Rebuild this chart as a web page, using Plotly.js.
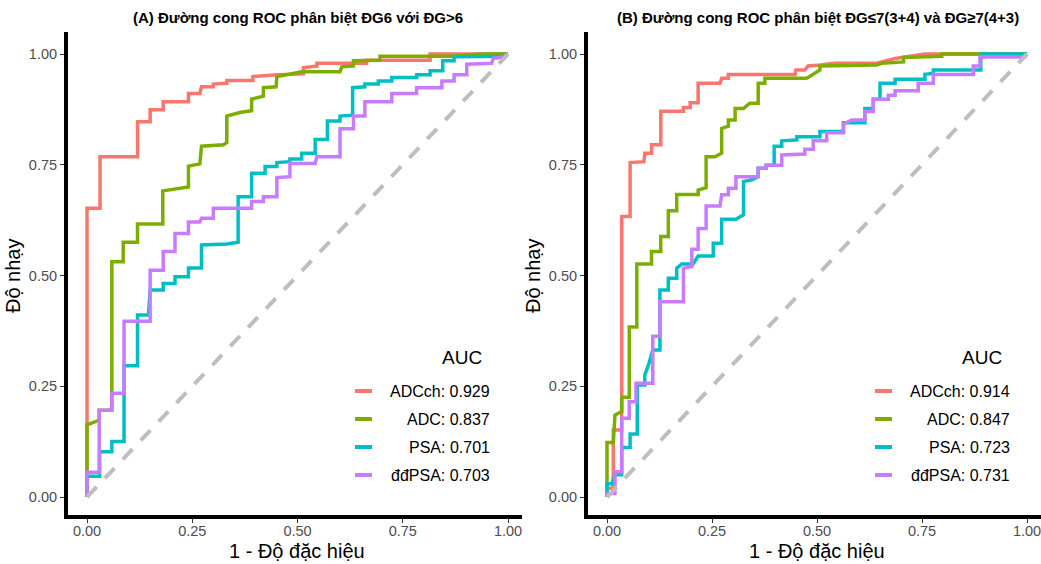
<!DOCTYPE html>
<html>
<head>
<meta charset="utf-8">
<script src="https://cdn.plot.ly/plotly-3.0.1.min.js"></script>
<style>html,body{margin:0;padding:0;background:#fff;}#chart{width:1041px;height:564px;}</style>
</head>
<body>
<div id="chart"></div>
<script>
// ---- data ----
const seriesNames = ['ADCch', 'ADC', 'PSA', 'đđPSA'];
const aucA = [0.929, 0.837, 0.701, 0.703];
const aucB = [0.914, 0.847, 0.723, 0.731];
const tickVals = [0, 0.25, 0.5, 0.75, 1];
const tickLabels = ['0.00', '0.25', '0.50', '0.75', '1.00'];
const diagX = [0, 1];
const diagY = [0, 1];

// Panel A (ĐG6 vs ĐG>6): 1 - specificity (x), sensitivity (y)
const A_adcch_x = [0,0,0.031,0.031,0.12,0.12,0.15,0.15,0.181,0.181,0.241,0.241,0.268,0.272,0.300,0.300,0.332,0.332,0.394,0.394,0.451,0.514,0.514,0.546,0.546,0.664,0.664,0.815,0.815,1];
const A_adcch_y = [0,0.652,0.652,0.768,0.768,0.847,0.847,0.874,0.874,0.892,0.892,0.911,0.911,0.926,0.926,0.932,0.934,0.940,0.940,0.949,0.953,0.955,0.969,0.973,0.979,0.979,0.986,0.986,1,1];
const A_adc_x = [0,0,0.025,0.029,0.029,0.059,0.059,0.086,0.086,0.12,0.12,0.18,0.18,0.241,0.241,0.268,0.272,0.324,0.332,0.332,0.363,0.391,0.391,0.419,0.419,0.449,0.451,0.510,0.601,0.605,0.633,0.633,0.696,0.696,0.870,0.933,1];
const A_adc_y = [0,0.163,0.172,0.175,0.196,0.196,0.531,0.531,0.575,0.575,0.616,0.616,0.691,0.700,0.747,0.752,0.792,0.795,0.800,0.860,0.868,0.872,0.898,0.905,0.924,0.926,0.949,0.960,0.960,0.971,0.973,0.985,0.986,0.995,0.995,1,1];
const A_psa_x = [0,0,0.03,0.03,0.059,0.059,0.088,0.088,0.12,0.12,0.146,0.15,0.181,0.181,0.209,0.209,0.241,0.241,0.272,0.272,0.332,0.359,0.359,0.391,0.391,0.423,0.423,0.451,0.451,0.482,0.482,0.510,0.510,0.542,0.542,0.571,0.571,0.601,0.601,0.631,0.631,0.660,0.660,0.692,0.692,0.724,0.724,0.783,0.783,0.815,0.815,0.845,0.845,0.872,0.872,0.993,1];
const A_psa_y = [0,0.047,0.047,0.102,0.102,0.125,0.125,0.296,0.296,0.411,0.411,0.467,0.467,0.482,0.482,0.497,0.497,0.517,0.517,0.569,0.571,0.575,0.678,0.678,0.731,0.731,0.746,0.746,0.755,0.757,0.763,0.763,0.776,0.776,0.807,0.807,0.849,0.849,0.860,0.862,0.924,0.926,0.932,0.932,0.939,0.939,0.947,0.947,0.953,0.953,0.962,0.962,0.985,0.985,0.994,0.995,1];
const A_ddpsa_x = [0,0,0.029,0.029,0.059,0.059,0.088,0.088,0.150,0.150,0.181,0.181,0.209,0.209,0.241,0.241,0.268,0.272,0.300,0.300,0.391,0.391,0.419,0.419,0.451,0.451,0.482,0.482,0.542,0.546,0.601,0.601,0.633,0.633,0.660,0.660,0.724,0.724,0.783,0.783,0.843,0.843,0.872,0.872,0.902,0.902,0.961,0.965,0.993,1];
const A_ddpsa_y = [0,0.056,0.056,0.196,0.196,0.234,0.234,0.397,0.397,0.512,0.512,0.554,0.554,0.595,0.595,0.621,0.621,0.629,0.629,0.652,0.652,0.667,0.667,0.678,0.678,0.721,0.723,0.753,0.753,0.768,0.768,0.831,0.831,0.860,0.860,0.892,0.892,0.911,0.911,0.924,0.924,0.939,0.939,0.953,0.953,0.977,0.979,0.990,0.994,1];

// Panel B (ĐG≤7(3+4) vs ĐG≥7(4+3))
const B_adcch_x = [0,0,0.015,0.015,0.035,0.035,0.055,0.055,0.088,0.090,0.106,0.106,0.128,0.128,0.182,0.182,0.198,0.198,0.217,0.217,0.269,0.273,0.289,0.289,0.448,0.450,0.471,0.479,0.507,0.543,0.642,0.686,0.757,1];
const B_adcch_y = [0,0.02,0.02,0.151,0.151,0.633,0.633,0.755,0.757,0.776,0.776,0.795,0.795,0.871,0.871,0.879,0.879,0.890,0.890,0.934,0.934,0.945,0.945,0.954,0.954,0.964,0.964,0.973,0.975,0.979,0.979,0.990,1,1];
const B_adc_x = [0,0,0.015,0.019,0.035,0.035,0.053,0.053,0.071,0.071,0.106,0.106,0.128,0.128,0.146,0.146,0.166,0.166,0.217,0.217,0.236,0.236,0.257,0.273,0.273,0.289,0.289,0.305,0.305,0.325,0.340,0.360,0.360,0.376,0.376,0.475,0.507,0.507,0.642,0.654,0.706,0.706,0.797,0.797,1];
const B_adc_y = [0,0.123,0.123,0.185,0.193,0.225,0.225,0.384,0.384,0.526,0.526,0.554,0.554,0.588,0.588,0.646,0.646,0.683,0.683,0.693,0.698,0.768,0.768,0.776,0.832,0.837,0.851,0.851,0.877,0.877,0.889,0.889,0.934,0.934,0.945,0.945,0.964,0.973,0.975,0.979,0.982,0.992,0.995,1,1];
const B_psa_x = [0,0,0.012,0.019,0.035,0.035,0.055,0.055,0.072,0.072,0.090,0.090,0.100,0.109,0.126,0.126,0.146,0.146,0.166,0.166,0.178,0.205,0.217,0.253,0.253,0.273,0.273,0.307,0.325,0.325,0.345,0.360,0.360,0.379,0.379,0.398,0.398,0.416,0.416,0.452,0.452,0.507,0.507,0.563,0.563,0.614,0.614,0.634,0.634,0.650,0.650,0.686,0.686,0.757,0.757,0.777,0.777,0.890,0.890,1];
const B_psa_y = [0,0.03,0.03,0.05,0.05,0.112,0.112,0.142,0.142,0.253,0.253,0.275,0.302,0.332,0.332,0.467,0.467,0.494,0.494,0.516,0.526,0.526,0.544,0.544,0.573,0.573,0.627,0.627,0.637,0.712,0.716,0.723,0.742,0.742,0.749,0.749,0.792,0.792,0.804,0.806,0.813,0.813,0.825,0.825,0.845,0.845,0.877,0.877,0.898,0.898,0.934,0.934,0.943,0.943,0.954,0.956,0.964,0.964,1,1];
const B_ddpsa_x = [0,0,0.019,0.019,0.035,0.035,0.053,0.053,0.069,0.069,0.109,0.109,0.126,0.126,0.182,0.182,0.202,0.202,0.217,0.217,0.236,0.236,0.269,0.273,0.289,0.289,0.307,0.307,0.360,0.360,0.379,0.379,0.416,0.416,0.471,0.471,0.491,0.491,0.523,0.523,0.563,0.563,0.583,0.614,0.614,0.634,0.634,0.670,0.670,0.686,0.686,0.741,0.741,0.777,0.777,0.872,0.872,0.888,0.888,0.995,1];
const B_ddpsa_y = [0,0.008,0.008,0.057,0.057,0.178,0.178,0.215,0.215,0.257,0.257,0.363,0.363,0.441,0.441,0.516,0.520,0.559,0.559,0.606,0.606,0.657,0.657,0.682,0.682,0.697,0.697,0.723,0.723,0.742,0.742,0.749,0.749,0.772,0.774,0.785,0.785,0.804,0.804,0.822,0.822,0.842,0.851,0.851,0.870,0.870,0.898,0.898,0.907,0.907,0.917,0.917,0.934,0.934,0.954,0.954,0.973,0.973,0.993,0.993,1];

const titleA = '(A) Đường cong ROC phân biệt ĐG6 với ĐG>6';
const titleB = '(B) Đường cong ROC phân biệt ĐG≤7(3+4) và ĐG≥7(4+3)';
const xTitle = '1 - Độ đặc hiệu';
const yTitle = 'Độ nhạy';
const legendTitle = 'AUC';

// ---- style ----
const W = 1041, H = 564;
const colors = ['#F8766D', '#7CAE00', '#00BFC4', '#C77CFF'];
const FONT = '"Liberation Sans", Arial, Helvetica, sans-serif';
const px = v => v / W;
const py = v => 1 - v / H;

// plot-area geometry (pixels); x0/x1 = pixel of value 0 and 1
const panels = [
  {xs: [A_adcch_x, A_adc_x, A_psa_x, A_ddpsa_x], ys: [A_adcch_y, A_adc_y, A_psa_y, A_ddpsa_y], auc: aucA, xa: 'x', ya: 'y', title: titleA, left: 68, right: 522, v0: 87, v1: 508, off: 0},
  {xs: [B_adcch_x, B_adc_x, B_psa_x, B_ddpsa_x], ys: [B_adcch_y, B_adc_y, B_psa_y, B_ddpsa_y], auc: aucB, xa: 'x2', ya: 'y2', title: titleB, left: 588, right: 1041, v0: 607, v1: 1027, off: 520}
];
const TOP = 32, BOTTOM = 515, Y0 = 497, Y1 = 54;

const traces = [];
const annotations = [];
const shapes = [];

panels.forEach(p => {
  for (let i = 0; i < 4; i++) {
    traces.push({
      type: 'scatter', mode: 'lines', x: p.xs[i], y: p.ys[i],
      xaxis: p.xa, yaxis: p.ya, name: seriesNames[i],
      line: {color: colors[i], width: 3.5, shape: 'linear'},
      hoverinfo: 'skip', showlegend: false
    });
  }
  traces.push({
    type: 'scatter', mode: 'lines', x: diagX, y: diagY, xaxis: p.xa, yaxis: p.ya,
    line: {color: '#BEBEBE', width: 4, dash: '14px,12px'}, hoverinfo: 'skip', showlegend: false
  });

  const o = p.off;
  const cx = (66 + 529) / 2 + o;
  annotations.push({xref: 'paper', yref: 'paper', x: px(cx), y: py(17), text: '<b>' + p.title.replace(/</g,'&lt;').replace(/>/g,'&gt;') + '</b>',
    showarrow: false, xanchor: 'center', yanchor: 'middle', font: {family: FONT, size: 15, color: '#000'}});
  annotations.push({xref: 'paper', yref: 'paper', x: px(297 + o), y: py(551), text: xTitle,
    showarrow: false, xanchor: 'center', yanchor: 'middle', font: {family: FONT, size: 20, color: '#000'}});
  annotations.push({xref: 'paper', yref: 'paper', x: px(13 + o), y: py(276), text: yTitle, textangle: -90,
    showarrow: false, xanchor: 'center', yanchor: 'middle', font: {family: FONT, size: 20, color: '#000'}});
  // legend
  annotations.push({xref: 'paper', yref: 'paper', x: px(462 + o), y: py(357), text: legendTitle,
    showarrow: false, xanchor: 'center', yanchor: 'middle', font: {family: FONT, size: 19, color: '#000'}});
  const rowsY = [391, 419, 447, 475];
  for (let i = 0; i < 4; i++) {
    annotations.push({xref: 'paper', yref: 'paper', x: px(492 + o), y: py(rowsY[i]),
      text: seriesNames[i] + ': ' + p.auc[i].toFixed(3), showarrow: false, xanchor: 'right', yanchor: 'middle',
      font: {family: FONT, size: 16, color: '#000'}});
    shapes.push({type: 'line', xref: 'paper', yref: 'paper', x0: px(355 + o), x1: px(372 + o), y0: py(rowsY[i]), y1: py(rowsY[i]),
      line: {color: colors[i], width: 4}});
  }
});

function xAxis(p, anchor) {
  const unit = p.v1 - p.v0;
  return {domain: [px(p.left), px(p.right)], range: [-(p.v0 - p.left) / unit, (p.right - p.v0) / unit], anchor: anchor,
    showline: true, linecolor: '#000', linewidth: 4, showgrid: false, zeroline: false,
    ticks: 'outside', ticklen: 4, tickwidth: 1, tickcolor: '#333', ticklabelstandoff: -4, ticklabeloverflow: 'allow',
    tickvals: tickVals, ticktext: tickLabels, tickfont: {family: FONT, size: 14.5, color: '#4D4D4D'}, fixedrange: true};
}
function yAxis(anchor) {
  const unit = Y0 - Y1;
  return {domain: [1 - BOTTOM / H, 1 - TOP / H], range: [-(BOTTOM - Y0) / unit, (Y0 - TOP) / unit], anchor: anchor,
    showline: true, linecolor: '#000', linewidth: 4, showgrid: false, zeroline: false,
    ticks: 'outside', ticklen: 4, tickwidth: 1, tickcolor: '#333', ticklabeloverflow: 'allow',
    tickvals: tickVals, ticktext: tickLabels, tickfont: {family: FONT, size: 14.5, color: '#4D4D4D'}, fixedrange: true};
}

const layout = {
  width: W, height: H, margin: {l: 0, r: 0, t: 0, b: 0},
  paper_bgcolor: '#fff', plot_bgcolor: '#fff', showlegend: false,
  xaxis: xAxis(panels[0], 'y'), yaxis: yAxis('x'),
  xaxis2: xAxis(panels[1], 'y2'), yaxis2: yAxis('x2'),
  annotations: annotations, shapes: shapes
};

Plotly.newPlot('chart', traces, layout, {staticPlot: true, displayModeBar: false});
</script>
</body>
</html>
